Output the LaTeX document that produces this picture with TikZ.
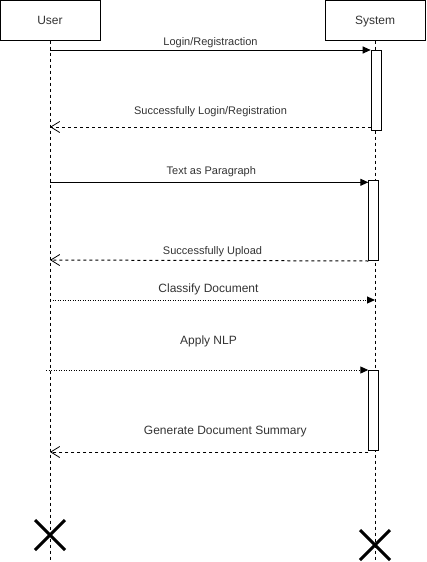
\documentclass[tikz,border=0pt]{standalone}
\usepackage{fontspec}
\setmainfont{Liberation Sans}
\usetikzlibrary{arrows.meta}
\definecolor{txt}{HTML}{333333}
\tikzset{
  head/.style={draw, line width=1pt, minimum width=100pt, minimum height=40pt, inner sep=0pt, font=\fontsize{12pt}{14pt}\selectfont, text=txt},
  act/.style={draw, line width=1pt, fill=white, minimum width=10pt, inner sep=0pt, anchor=north west},
  life/.style={line width=0.8pt, dash pattern=on 3pt off 3pt},
  sync/.style={line width=1pt, -{Triangle[length=8pt,width=7pt]}},
  ret/.style={line width=1pt, dash pattern=on 3pt off 3pt, -{Straight Barb[length=9pt,width=11pt,line width=0.8pt]}},
  dotmsg/.style={line width=1pt, dash pattern=on 1pt off 1.5pt, -{Triangle[length=8pt,width=7pt]}},
  lblS/.style={anchor=base, inner sep=0pt, text=txt, font=\fontsize{11pt}{13pt}\selectfont},
  lblL/.style={anchor=base, inner sep=0pt, text=txt, font=\fontsize{12pt}{14pt}\selectfont},
  xmark/.style={line width=3pt}
}
\begin{document}
\begin{tikzpicture}[x=1pt,y=-1pt]
\useasboundingbox (0,0) rectangle (426,562);
% headers
\node[head] (user) at (50,20) {};
\node[lblL] (userlbl) at (50,24) {User};
\node[head] (sys) at (375,20) {};
\node[lblL] (syslbl) at (375,24) {System};
% lifeline ends
\coordinate (uend) at (50,562);
\coordinate (send) at (375,562);
\draw[life] (user.south) -- (uend);
\draw[life] (sys.south) -- (send);
% activation boxes
\node[act, minimum height=80pt] (a1) at (370.7,50) {};
\node[act, minimum height=80pt] (a2) at (368.3,180) {};
\node[act, minimum height=80pt] (a3) at (368.3,370) {};
% message endpoints on the user lifeline
\coordinate (u1) at (50,50);
\coordinate (u2) at (50,127);
\coordinate (u3) at (50,182.3);
\coordinate (u4) at (50,260);
\coordinate (u5) at (50,300);
\coordinate (s5) at (375,300);
\coordinate (u6) at (46,370);
\coordinate (u7) at (50,452);
% messages
\draw[sync] (u1) -- (a1.north west);
\node[lblS] (m1) at (210.5,45) {Login/Registraction};
\draw[ret] (a1.west |- u2) -- (u2);
\node[lblS] (m2) at (210.5,114.5) {Successfully Login/Registration};
\draw[sync] (u3) -- (a2.west |- u3);
\node[lblS] (m3) at (211.3,174.7) {Text as Paragraph};
\draw[ret] (a2.south west) -- (u4);
\node[lblS] (m4) at (212.5,254.7) {Successfully Upload};
\draw[dotmsg] (u5) -- (s5);
\node[lblL] (m5) at (208.5,292) {Classify Document};
\draw[dotmsg] (u6) -- (a3.north west);
\node[lblL] (m6) at (208.5,344.3) {Apply NLP};
\draw[ret] (a3.west |- u7) -- (u7);
\node[lblL] (m7) at (225.3,434) {Generate Document Summary};
% destruction marks
\coordinate (xu) at (50,535);
\coordinate (xs) at (375,545);
\draw[xmark] ([shift={(-15,-15)}]xu) -- ([shift={(15,15)}]xu);
\draw[xmark] ([shift={(-15,15)}]xu) -- ([shift={(15,-15)}]xu);
\draw[xmark] ([shift={(-15,-15)}]xs) -- ([shift={(15,15)}]xs);
\draw[xmark] ([shift={(-15,15)}]xs) -- ([shift={(15,-15)}]xs);
\end{tikzpicture}
\end{document}
